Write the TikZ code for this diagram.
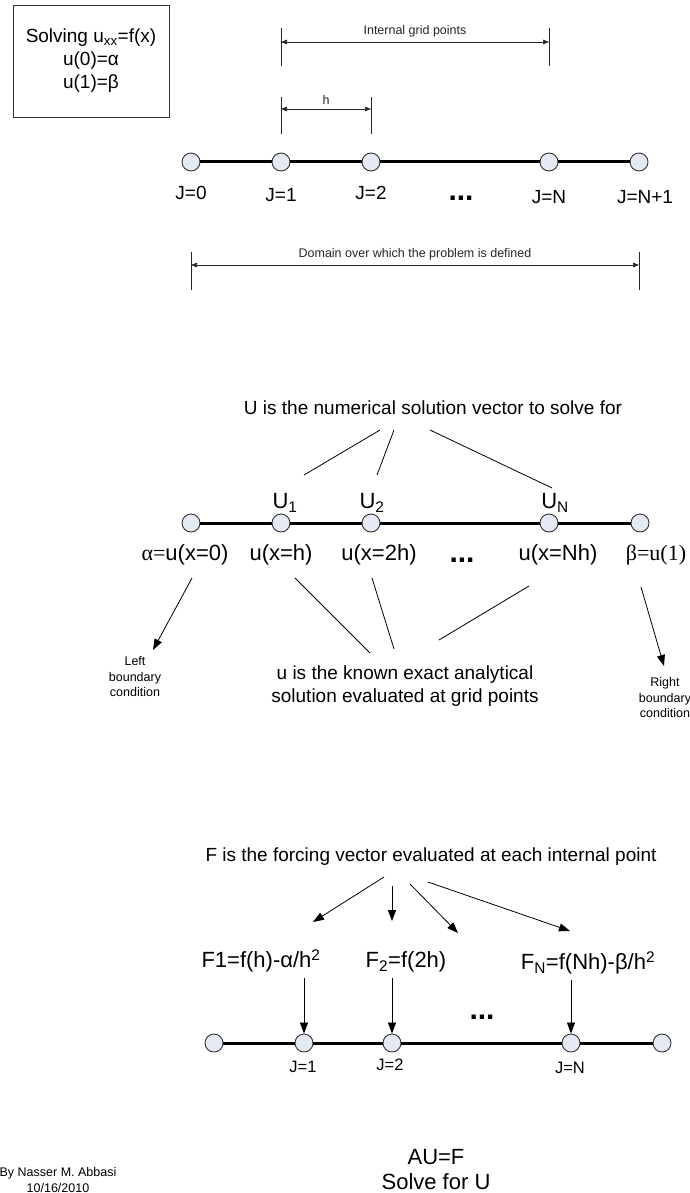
\documentclass[tikz,border=0pt]{standalone}
\usepackage{fontspec}
\setmainfont{Liberation Sans}
\newfontfamily\timesfont{Liberation Serif}
\usetikzlibrary{arrows.meta,calc}
\definecolor{ptfill}{HTML}{E4E9F4}
\tikzset{every picture/.style={x=1pt,y=-1pt}}
\tikzset{gridpt/.style={circle,draw=black!80,fill=ptfill,line width=0.9pt,minimum size=18pt,inner sep=0pt}}
\tikzset{rod/.style={line width=3pt}}
\tikzset{txtbig/.style={font=\fontsize{22}{25}\selectfont}}
\tikzset{txtmid/.style={font=\fontsize{19}{23}\selectfont}}
\tikzset{txtj/.style={font=\fontsize{16.5}{20}\selectfont}}
\tikzset{txtsmall/.style={font=\fontsize{12.5}{15.5}\selectfont}}
\tikzset{dotrow/.style={font=\bfseries\fontsize{30}{30}\selectfont}}
\tikzset{dimtick/.style={line width=0.7pt,black!85}}
\tikzset{dimarrow/.style={dimtick,{Triangle[length=6pt,width=4.5pt]}-{Triangle[length=6pt,width=4.5pt]}}}
\tikzset{link/.style={line width=0.8pt}}
\tikzset{pointer/.style={link,-{Triangle[length=11pt,width=8pt]}}}

\begin{document}
\begin{tikzpicture}
    \useasboundingbox (0,0) rectangle (690,1193);
    % problem statement
    \node [draw=black!80,line width=0.9pt,minimum width=156pt,minimum height=112pt,align=center,txtmid] (prob) at (91,61)
        {Solving u\textsubscript{xx}=f(x)\\u(0)=α\\u(1)=β};

    % grid and domain
    \foreach \n/\x in {0/191,1/281,2/371,N/549,E/639}
        \node [gridpt] (g\n) at (\x,162) {};
    \draw [rod] (g0) -- (g1) -- (g2) -- (gN) -- (gE);
    \node [txtmid] (j0) at (191,193) {J=0};
    \node [txtmid] (j1) at (281,195) {J=1};
    \node [txtmid] (j2) at (371,193) {J=2};
    \node [txtmid] (jN) at (549,197) {J=N};
    \node [txtmid] (jE) at (645,197) {J=N+1};
    \node [dotrow] (gdots) at (461,198) {...};
    \draw [dimtick] (g1 |- 0,28) -- (g1 |- 0,66);
    \draw [dimtick] (gN |- 0,28) -- (gN |- 0,66);
    \draw [dimarrow] (g1 |- 0,42) -- (gN |- 0,42) node [midway,above=1pt,txtsmall] (igp) {Internal grid points};
    \draw [dimtick] (g1 |- 0,97) -- (g1 |- 0,134);
    \draw [dimtick] (g2 |- 0,97) -- (g2 |- 0,134);
    \draw [dimarrow] (g1 |- 0,109) -- (g2 |- 0,109) node [midway,above=1pt,txtsmall] (hlab) {h};
    \draw [dimtick] (g0 |- 0,252) -- (g0 |- 0,290);
    \draw [dimtick] (gE |- 0,252) -- (gE |- 0,290);
    \draw [dimarrow] (g0 |- 0,265) -- (gE |- 0,265) node [midway,above=1pt,txtsmall] (dom) {Domain over which the problem is defined};

    % numerical vs exact solution
    \node [txtmid] (utxt) at (433,408) {U is the numerical solution vector to solve for};
    \foreach \n/\x in {0/191,1/281,2/371,N/549,E/640}
        \node [gridpt] (h\n) at (\x,523) {};
    \draw [rod] (h0) -- (h1) -- (h2) -- (hN) -- (hE);
    \node [txtbig] (U1) at (285,503) {U\textsubscript{1}};
    \node [txtbig] (U2) at (372,503) {U\textsubscript{2}};
    \node [txtbig] (UN) at (555,503) {U\textsubscript{N}};
    \node [txtbig] (v0) at (185,555) {{\timesfont α=}u(x=0)};
    \node [txtbig] (v1) at (281,555) {u(x=h)};
    \node [txtbig] (v2) at (379,555) {u(x=2h)};
    \node [dotrow] (vdots) at (462,560) {...};
    \node [txtbig] (vN) at (558,555) {u(x=Nh)};
    \node [txtbig] (vE) at (656,555) {\timesfont β=u(1)};
    \coordinate (ut1) at (380,430); \coordinate (ub1) at (304,475);
    \coordinate (ut2) at (394,430); \coordinate (ub2) at (377,475);
    \coordinate (ut3) at (430,430); \coordinate (ub3) at (552,488);
    \draw [link] (ut1) -- (ub1);
    \draw [link] (ut2) -- (ub2);
    \draw [link] (ut3) -- (ub3);
    \node [txtmid,align=center] (ktxt) at (405,686) {u is the known exact analytical\\solution evaluated at grid points};
    \coordinate (ka1) at (295,578); \coordinate (kb1) at (370,653);
    \coordinate (ka2) at (372,578); \coordinate (kb2) at (394,649);
    \coordinate (ka3) at (529,586); \coordinate (kb3) at (439,640);
    \draw [link] (ka1) -- (kb1);
    \draw [link] (ka2) -- (kb2);
    \draw [link] (ka3) -- (kb3);
    \node [txtsmall,align=center] (lbc) at (135,677) {Left\\boundary\\condition};
    \node [txtsmall,align=center] (rbc) at (665,698) {Right\\boundary\\condition};
    \coordinate (la) at (192,578); \coordinate (lb) at (153,650);
    \coordinate (ra) at (641,587); \coordinate (rb) at (664,666);
    \draw [pointer] (la) -- (lb);
    \draw [pointer] (ra) -- (rb);

    % forcing vector
    \node [txtmid] (ftxt) at (431,857) {F is the forcing vector evaluated at each internal point};
    \coordinate (fa1) at (384,877); \coordinate (fb1) at (313,922);
    \coordinate (fa2) at (392,886); \coordinate (fb2) at (392,921);
    \coordinate (fa3) at (410,884); \coordinate (fb3) at (458,933);
    \coordinate (fa4) at (428,882); \coordinate (fb4) at (570,931);
    \foreach \i in {1,...,4}
        \draw [pointer] (fa\i) -- (fb\i);
    \node [txtbig] (F1) at (261,961) {F1=f(h)-α/h\textsuperscript{2}};
    \node [txtbig] (F2) at (406,962) {F\textsubscript{2}=f(2h)};
    \node [txtbig] (FN) at (588,963) {F\textsubscript{N}=f(Nh)-β/h\textsuperscript{2}};
    \foreach \n/\x in {0/214,1/304,2/392,N/571,E/662}
        \node [gridpt] (k\n) at (\x,1043) {};
    \draw [rod] (k0) -- (k1) -- (k2) -- (kN) -- (kE);
    \draw [pointer,shorten <=2pt] (F1.south -| k1) -- (k1);
    \draw [pointer,shorten <=2pt] (F2.south -| k2) -- (k2);
    \draw [pointer,shorten <=2pt] (FN.south -| kN) -- (kN);
    \node [txtj] (kj1) at (303,1067) {J=1};
    \node [txtj] (kj2) at (390,1065) {J=2};
    \node [txtj] (kjN) at (570,1068) {J=N};
    \node [dotrow] (kdots) at (482,1017) {...};

    \node [txtbig,align=center] (eq) at (436,1170) {AU=F\\Solve for U};
    \node [txtsmall,align=center] (auth) at (58,1180) {By Nasser M. Abbasi\\10/16/2010};
\end{tikzpicture}
\end{document}
